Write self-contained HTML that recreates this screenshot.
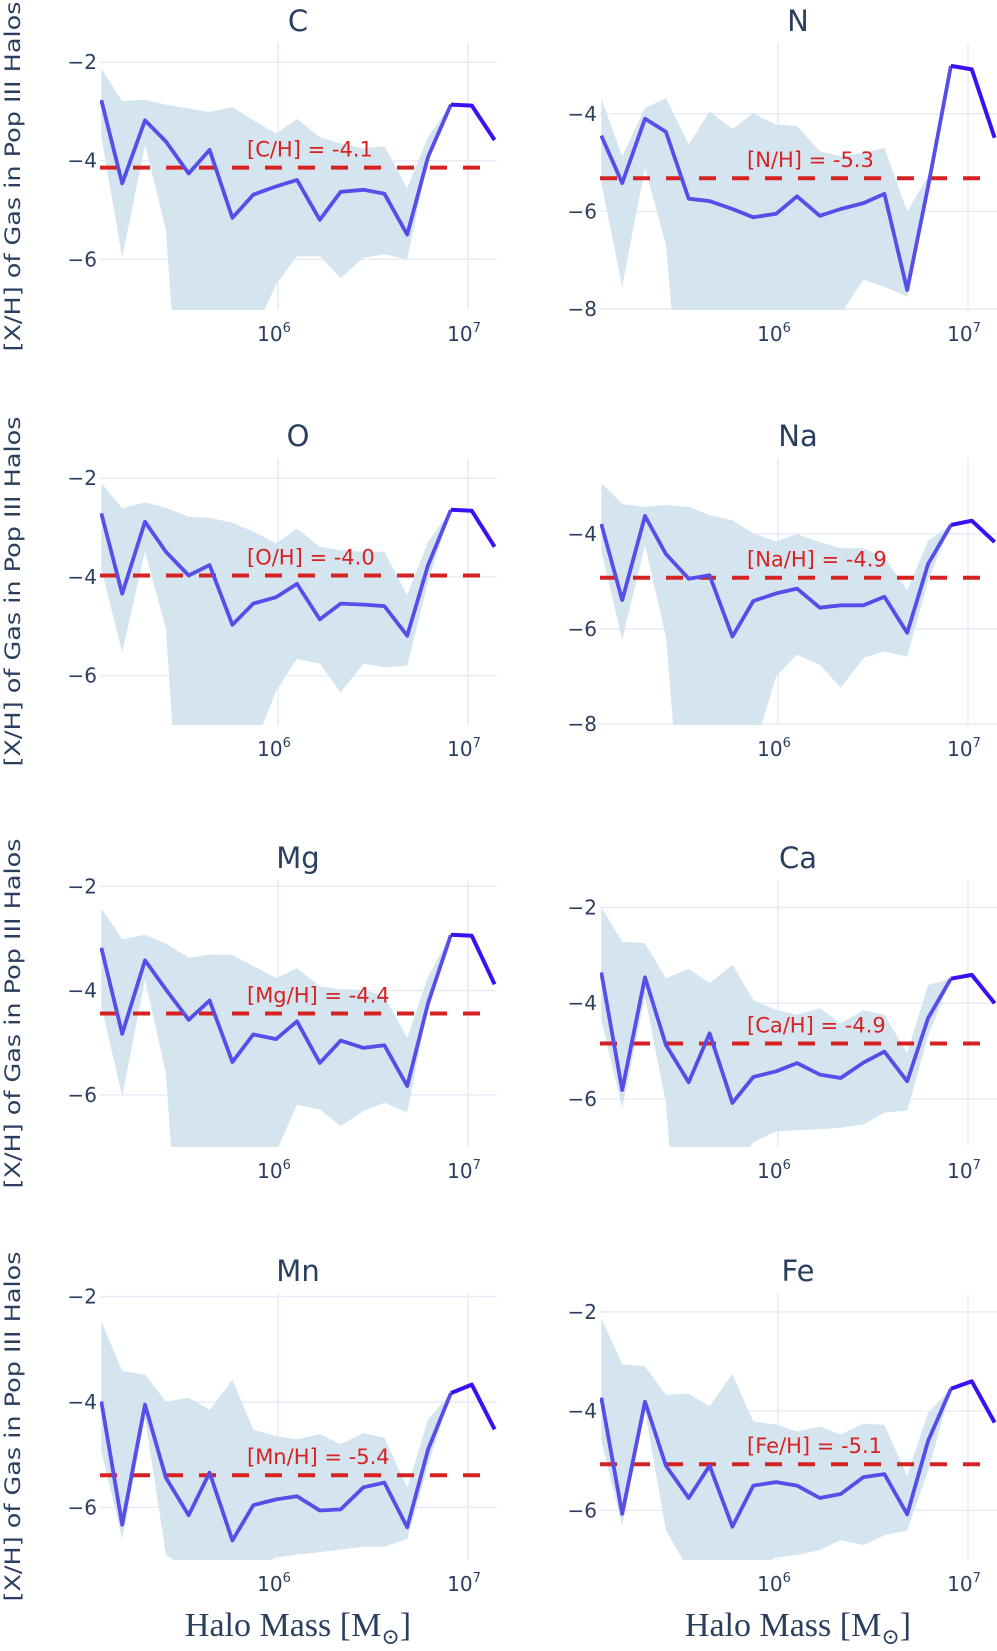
<!DOCTYPE html>
<html><head><meta charset="utf-8">
<style>
html,body{margin:0;padding:0;background:#fff;}
svg{display:block;font-family:"DejaVu Sans","Liberation Sans",sans-serif;}
</style></head>
<body>
<svg id="fig" width="997" height="1651" viewBox="0 0 997 1651" xmlns="http://www.w3.org/2000/svg"></svg>
<script>
// ---- data ----
const logMass = [5.07,5.18,5.30,5.41,5.53,5.64,5.76,5.87,5.99,6.10,6.22,6.33,6.45,6.56,6.68,6.79,6.91,7.02,7.14];
const elements = ["C","N","O","Na","Mg","Ca","Mn","Fe"];
const meanC  = [-2.77,-4.46,-3.18,-3.61,-4.26,-3.78,-5.16,-4.69,-4.52,-4.39,-5.20,-4.63,-4.59,-4.67,-5.50,-3.92,-2.86,-2.88,-3.58];
const upC    = [-2.13,-2.79,-2.76,-2.86,-2.94,-3.01,-2.91,-3.18,-3.45,-3.15,-3.52,-3.65,-3.75,-3.70,-4.56,-3.51,-2.86,-2.88,-3.58];
const loC    = [-3.50,-5.97,-3.68,-5.40,-12,-12,-12,-7.53,-6.51,-5.94,-5.94,-6.38,-5.97,-5.90,-6.00,-3.95,-2.86,-2.88,-3.58];
const meanN  = [-4.45,-5.42,-4.10,-4.37,-5.74,-5.79,-5.95,-6.12,-6.05,-5.69,-6.09,-5.95,-5.83,-5.64,-7.61,-5.49,-3.02,-3.09,-4.49];
const upN    = [-3.69,-4.87,-3.88,-3.68,-4.63,-3.95,-4.31,-3.99,-4.22,-4.25,-4.77,-4.87,-4.80,-4.70,-6.00,-5.28,-3.02,-3.09,-4.49];
const loN    = [-5.42,-7.54,-5.11,-6.68,-12,-12,-12,-12,-12,-12,-9.0,-8.1,-7.40,-7.54,-7.75,-5.49,-3.02,-3.09,-4.49];
const meanO  = [-2.71,-4.34,-2.88,-3.49,-3.97,-3.76,-4.97,-4.54,-4.41,-4.14,-4.86,-4.54,-4.56,-4.59,-5.19,-3.76,-2.64,-2.66,-3.39];
const upO    = [-2.10,-2.61,-2.49,-2.60,-2.78,-2.80,-2.90,-3.08,-3.32,-3.02,-3.39,-3.46,-3.49,-3.49,-4.37,-3.29,-2.64,-2.66,-3.39];
const loO    = [-3.83,-5.53,-3.49,-5.05,-12,-12,-12,-7.50,-6.31,-5.66,-5.76,-6.34,-5.76,-5.83,-5.80,-4.10,-2.64,-2.66,-3.39];
const meanNa = [-3.79,-5.39,-3.62,-4.42,-4.94,-4.87,-6.16,-5.41,-5.25,-5.15,-5.55,-5.50,-5.50,-5.32,-6.08,-4.63,-3.81,-3.72,-4.17];
const upNa   = [-2.92,-3.37,-3.43,-3.39,-3.43,-3.60,-3.71,-3.99,-4.16,-4.00,-4.17,-4.30,-4.30,-4.49,-5.18,-4.14,-3.81,-3.72,-4.17];
const loNa   = [-4.35,-6.23,-4.24,-6.16,-12,-12,-12,-8.60,-7.00,-6.54,-6.75,-7.24,-6.61,-6.47,-6.58,-4.98,-3.81,-3.72,-4.17];
const meanMg = [-3.18,-4.83,-3.42,-3.98,-4.56,-4.19,-5.37,-4.84,-4.93,-4.59,-5.39,-4.96,-5.10,-5.05,-5.83,-4.24,-2.93,-2.95,-3.88];
const upMg   = [-2.42,-3.02,-2.93,-3.10,-3.37,-3.31,-3.32,-3.53,-3.76,-3.57,-3.92,-3.98,-3.98,-4.11,-4.91,-3.73,-2.93,-2.95,-3.88];
const loMg   = [-4.30,-6.03,-3.79,-5.58,-12,-12,-12,-8.00,-7.10,-6.19,-6.28,-6.60,-6.31,-6.15,-6.34,-4.30,-2.93,-2.95,-3.88];
const meanCa = [-3.36,-5.81,-3.46,-4.87,-5.65,-4.63,-6.08,-5.54,-5.42,-5.25,-5.49,-5.56,-5.24,-5.01,-5.63,-4.31,-3.49,-3.41,-4.00];
const upCa   = [-2.00,-2.72,-2.75,-3.48,-3.28,-3.58,-3.20,-3.93,-4.14,-4.24,-4.10,-4.42,-4.15,-4.24,-5.04,-3.62,-3.49,-3.41,-4.00];
const loCa   = [-4.35,-6.19,-3.86,-6.08,-12,-12,-7.50,-6.90,-6.67,-6.65,-6.63,-6.60,-6.53,-6.28,-6.24,-4.69,-3.49,-3.41,-4.00];
const meanMn = [-3.99,-6.33,-4.05,-5.44,-6.15,-5.34,-6.63,-5.96,-5.85,-5.79,-6.06,-6.04,-5.62,-5.53,-6.38,-4.90,-3.83,-3.67,-4.52];
const upMn   = [-2.47,-3.41,-3.48,-3.99,-3.92,-4.15,-3.58,-4.52,-4.65,-4.71,-4.61,-4.80,-4.59,-4.68,-5.63,-4.33,-3.83,-3.67,-4.52];
const loMn   = [-4.93,-6.60,-4.30,-6.90,-7.20,-7.20,-7.20,-7.20,-6.95,-6.90,-6.85,-6.80,-6.75,-6.75,-6.60,-5.20,-3.83,-3.67,-4.52];
const meanFe = [-3.73,-6.07,-3.81,-5.10,-5.75,-5.10,-6.33,-5.50,-5.43,-5.50,-5.75,-5.67,-5.33,-5.27,-6.08,-4.60,-3.55,-3.40,-4.23];
const upFe   = [-2.13,-3.05,-3.10,-3.67,-3.65,-3.90,-3.25,-4.21,-4.27,-4.41,-4.31,-4.47,-4.25,-4.28,-5.30,-4.03,-3.55,-3.40,-4.23];
const loFe   = [-4.60,-6.30,-4.00,-6.40,-7.20,-7.20,-7.20,-7.20,-6.95,-6.90,-6.80,-6.60,-6.70,-6.50,-6.40,-5.20,-3.55,-3.40,-4.23];
const overallMean = [-4.14,-5.32,-3.97,-4.92,-4.44,-4.84,-5.39,-5.07];
const overallLabels = ["-4.1","-5.3","-4.0","-4.9","-4.4","-4.9","-5.4","-5.1"];
const yTicksLeft = [-2,-4,-6];
const yTicksNaN = [-4,-6,-8];
const xTickExp = [6,7];

const means = [meanC,meanN,meanO,meanNa,meanMg,meanCa,meanMn,meanFe];
const ups = [upC,upN,upO,upNa,upMg,upCa,upMn,upFe];
const los = [loC,loN,loO,loNa,loMg,loCa,loMn,loFe];
const tickSets = [yTicksLeft,yTicksNaN,yTicksLeft,yTicksNaN,yTicksLeft,yTicksLeft,yTicksLeft,yTicksLeft];

// ---- layout ----
const colX0 = [100,600], plotW = 397, plotH = 267;
const rowTop = [43,458,880,1293];
const yRanges = [[-7.03,-1.61],[-8.02,-2.55],[-7.0,-1.59],[-8.02,-2.4],[-7.0,-1.88],[-7.0,-1.43],[-7.0,-1.93],[-7.0,-1.62]];

const NS = "http://www.w3.org/2000/svg";
const svg = document.getElementById('fig');
function mk(tag, attrs, parent){
  const e = document.createElementNS(NS, tag);
  for (const k in attrs) e.setAttribute(k, attrs[k]);
  (parent||svg).appendChild(e);
  return e;
}
const defs = mk('defs',{});

for (let p = 0; p < 8; p++) {
  const col = p % 2, row = Math.floor(p / 2);
  const x0 = colX0[col], top = rowTop[row], bot = top + plotH;
  const [ymin, ymax] = yRanges[p];
  const xs = v => x0 + 178 + (v - 6) * 190;
  const ys = v => bot - (v - ymin) / (ymax - ymin) * plotH;

  const g = mk('g', {});
  
  

  const cp = mk('clipPath', {id: 'clip' + p}, defs);
  mk('rect', {x: x0, y: top, width: plotW, height: plotH}, cp);

  tickSets[p].forEach(t => {
    const l = mk('line', {x1: x0, x2: x0 + plotW, y1: ys(t), y2: ys(t), stroke: '#e9ebf7', 'stroke-width': 1.5}, g);
    
    
    const tl = mk('text', {x: x0 - 3, y: ys(t) + 7, 'text-anchor': 'end', 'font-size': 20, fill: '#2a3f5f'}, g);
    tl.textContent = '\u2212' + Math.abs(t);
    
    
  });
  xTickExp.forEach(e => {
    const l = mk('line', {x1: xs(e), x2: xs(e), y1: top, y2: bot, stroke: '#e9ebf7', 'stroke-width': 1.5}, g);
    
    
    const tl = mk('text', {x: xs(e) - 4, y: bot + 31, 'text-anchor': 'middle', 'font-size': 20, fill: '#2a3f5f'}, g);
    tl.textContent = '10';
    const sup = mk('tspan', {'font-size': 13, dy: -9}, tl);
    sup.textContent = String(e);
    
    
  });

  const cg = mk('g', {'clip-path': 'url(#clip' + p + ')'}, g);
  let d = '';
  logMass.forEach((m, i) => { d += (i ? 'L' : 'M') + xs(m).toFixed(1) + ',' + ys(ups[p][i]).toFixed(1); });
  for (let i = logMass.length - 1; i >= 0; i--) d += 'L' + xs(logMass[i]).toFixed(1) + ',' + ys(los[p][i]).toFixed(1);
  const band = mk('path', {d: d + 'Z', fill: '#d5e5ef'}, cg);
  
  

  const ml = mk('line', {x1: x0, x2: x0 + 382, y1: ys(overallMean[p]), y2: ys(overallMean[p]), stroke: '#d62222', 'stroke-width': 4, 'stroke-dasharray': '17 16'}, cg);
  
  

  let d2 = '';
  for (let i = 0; i <= 16; i++) d2 += (i ? 'L' : 'M') + xs(logMass[i]).toFixed(1) + ',' + ys(means[p][i]).toFixed(1);
  const line = mk('path', {d: d2, fill: 'none', stroke: '#574de9', 'stroke-width': 3.8, 'stroke-linejoin': 'round'}, cg);
  
  
  let d3 = '';
  for (let i = 16; i < logMass.length; i++) d3 += (i > 16 ? 'L' : 'M') + xs(logMass[i]).toFixed(1) + ',' + ys(means[p][i]).toFixed(1);
  const line2 = mk('path', {d: d3, fill: 'none', stroke: '#3a10f5', 'stroke-width': 4, 'stroke-linejoin': 'round'}, cg);
  
  

  const an = mk('text', {x: x0 + 147, y: ys(overallMean[p]) - 11, 'font-size': 21, fill: '#d62222'}, g);
  an.textContent = '[' + elements[p] + '/H] = ' + overallLabels[p];
  
  

  const tt = mk('text', {x: x0 + 198, y: top - 12, 'text-anchor': 'middle', 'font-size': 29, fill: '#2a3f5f'}, g);
  tt.textContent = elements[p];
  
  

  if (col === 0) {
    const cy = top + plotH / 2;
    const yt = mk('text', {x: 0, y: 0, transform: 'translate(20,' + cy + ') rotate(-90)', 'text-anchor': 'middle', 'font-size': 21, fill: '#2a3f5f', textLength: 350, lengthAdjust: 'spacingAndGlyphs'}, g);
    yt.textContent = '[X/H] of Gas in Pop III Halos';
    
    
  }
}

[298, 798].forEach(cx => {
  const t = mk('text', {x: cx, y: 1636, 'text-anchor': 'middle', 'font-size': 34, fill: '#2a3f5f', 'font-family': '"Liberation Serif","DejaVu Serif",serif'});
  t.textContent = 'Halo Mass [M';
  const s = mk('tspan', {'font-size': 22, dy: 8}, t);
  s.textContent = '\u2299';
  const s2 = mk('tspan', {dy: -8}, t);
  s2.textContent = ']';
  
  
});
</script>
</body></html>
